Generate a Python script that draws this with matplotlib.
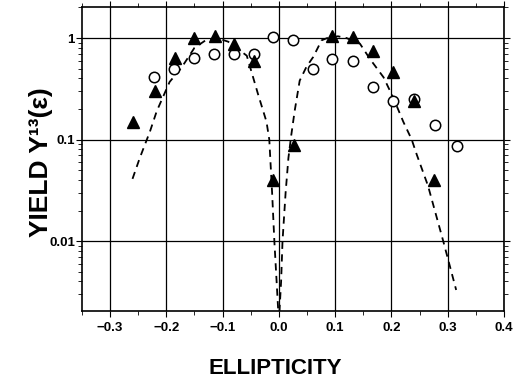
import numpy as np
import matplotlib
matplotlib.use('Agg')
import matplotlib.pyplot as plt
from matplotlib.ticker import FixedLocator, LogLocator, NullFormatter, FixedFormatter

plt.rcParams['font.family'] = ['Liberation Sans', 'DejaVu Sans']

# filled triangles
tri_x = [-0.260, -0.220, -0.185, -0.150, -0.114, -0.079, -0.044, -0.011, 0.027,
         0.095, 0.131, 0.168, 0.203, 0.240, 0.275]
tri_y = [0.15, 0.30, 0.63, 1.00, 1.05, 0.88, 0.59, 0.040, 0.088,
         1.05, 1.02, 0.74, 0.46, 0.24, 0.040]

# open circles
circ_x = [-0.221, -0.186, -0.150, -0.115, -0.080, -0.044, -0.010, 0.025,
          0.060, 0.095, 0.131, 0.168, 0.203, 0.240, 0.277, 0.316]
circ_y = [0.41, 0.49, 0.63, 0.70, 0.70, 0.70, 1.02, 0.95,
          0.50, 0.62, 0.59, 0.33, 0.24, 0.25, 0.14, 0.086]

# dashed curve, left branch
left_x = [-0.260, -0.247, -0.229, -0.217, -0.194, -0.173, -0.150, -0.130, -0.110,
          -0.090, -0.057, -0.037, -0.022, -0.017, -0.012, -0.008, -0.004, -0.001]
left_y = [0.041, 0.066, 0.12, 0.19, 0.37, 0.51, 0.80, 0.95, 1.00,
          0.92, 0.67, 0.28, 0.15, 0.10, 0.03, 0.01, 0.004, 0.002]

# dashed curve, right branch
right_x = [0.001, 0.004, 0.0065, 0.012, 0.017, 0.022, 0.028, 0.037, 0.049, 0.061,
           0.076, 0.090, 0.105, 0.120, 0.144, 0.162, 0.186, 0.203, 0.221, 0.236,
           0.245, 0.265, 0.292, 0.315]
right_y = [0.002, 0.004, 0.01, 0.03, 0.066, 0.11, 0.19, 0.38, 0.52, 0.65,
           0.95, 1.02, 1.04, 1.00, 0.88, 0.62, 0.41, 0.26, 0.15, 0.10,
           0.071, 0.035, 0.01, 0.0033]

xtick_labels = ['\u22120.3', '\u22120.2', '\u22120.1', '0.0', '0.1', '0.2', '0.3', '0.4']
ytick_labels = ['0.01', '0.1', '1']

fig = plt.figure(figsize=(5.18, 3.79), dpi=100)
ax = fig.add_axes([0.158, 0.179, 0.815, 0.8025])

ax.plot(left_x, left_y, color='black', linestyle=(0, (4, 3)), linewidth=1.3)
ax.plot(right_x, right_y, color='black', linestyle=(0, (4, 3)), linewidth=1.3)
ax.plot(circ_x, circ_y, linestyle='none', marker='o', markersize=7.5,
        markerfacecolor='white', markeredgecolor='black', markeredgewidth=1.1)
ax.plot(tri_x, tri_y, linestyle='none', marker='^', markersize=9,
        color='black')

ax.set_yscale('log')
ax.set_xlim(-0.35, 0.40)
ax.set_ylim(0.00204, 2.02)

ax.xaxis.set_major_locator(FixedLocator(np.arange(-0.3, 0.41, 0.1)))
ax.xaxis.set_major_formatter(FixedFormatter(xtick_labels))
ax.xaxis.set_minor_locator(FixedLocator(np.arange(-0.35, 0.41, 0.05)))
ax.yaxis.set_major_locator(FixedLocator([0.01, 0.1, 1]))
ax.yaxis.set_major_formatter(FixedFormatter(ytick_labels))
ax.yaxis.set_minor_locator(LogLocator(base=10, subs=np.arange(2, 10)))
ax.yaxis.set_minor_formatter(NullFormatter())

ax.grid(True, which='major', color='black', linewidth=0.9)
ax.tick_params(axis='both', which='both', top=True, right=True, direction='out')
ax.tick_params(axis='both', which='major', length=4, labelsize=9.5)
ax.tick_params(axis='y', which='major', pad=1)
ax.tick_params(axis='both', which='minor', length=3)
for lab in ax.get_xticklabels() + ax.get_yticklabels():
    lab.set_fontweight('bold')

for s in ax.spines.values():
    s.set_linewidth(1.2)

ax.set_xlabel('ELLIPTICITY', fontsize=16, fontweight='bold')
ax.set_ylabel('YIELD Y¹³(ε)', fontsize=19, fontweight='bold')
ax.xaxis.set_label_coords(0.457, -0.155)
ax.yaxis.set_label_coords(-0.068, 0.49)

fig.savefig('out.png', dpi=100)
